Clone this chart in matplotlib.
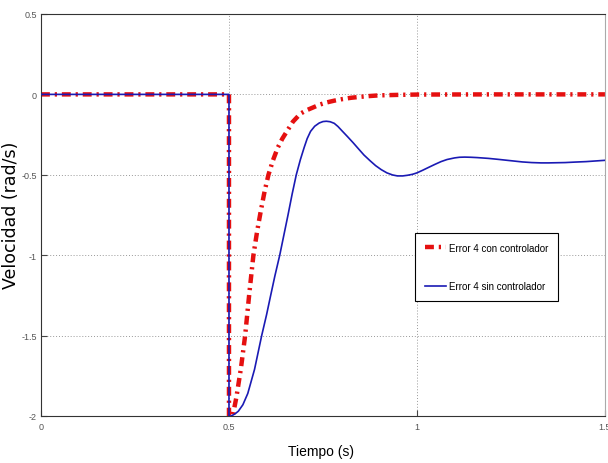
import matplotlib as mpl
import matplotlib.pyplot as plt

mpl.rcParams['font.family'] = ['Liberation Sans', 'DejaVu Sans']

# Error 4 con controlador (red, dash-dot)
t_con = [0.0, 0.5, 0.5, 0.51, 0.52, 0.532, 0.543, 0.554, 0.565, 0.575, 0.585,
         0.595, 0.605, 0.617, 0.63, 0.642, 0.654, 0.67, 0.69, 0.705, 0.725,
         0.742, 0.76, 0.78, 0.80, 0.825, 0.85, 0.875, 0.90, 0.95, 1.0, 1.2, 1.5]
v_con = [0.0, 0.0, -2.0, -2.0, -1.88, -1.70, -1.5, -1.24, -1.0, -0.85, -0.72,
         -0.60, -0.5, -0.41, -0.33, -0.275, -0.23, -0.17, -0.12, -0.10, -0.08,
         -0.063, -0.05, -0.039, -0.03, -0.021, -0.015, -0.01, -0.006, -0.003,
         -0.001, 0.0, 0.0]

# Error 4 sin controlador (blue, solid)
t_sin = [0.0, 0.5, 0.5, 0.505, 0.51, 0.517, 0.525, 0.537, 0.55, 0.568, 0.587,
         0.60, 0.61, 0.622, 0.635, 0.646, 0.657, 0.668, 0.679, 0.69, 0.70,
         0.708, 0.717, 0.728, 0.74, 0.75, 0.759, 0.769, 0.78, 0.79, 0.80,
         0.815, 0.83, 0.845, 0.859, 0.875, 0.89, 0.905, 0.92, 0.935, 0.948,
         0.962, 0.975, 0.988, 1.0, 1.015, 1.03, 1.047, 1.064, 1.08, 1.10,
         1.113, 1.127, 1.143, 1.16, 1.19, 1.216, 1.24, 1.26, 1.28, 1.305,
         1.33, 1.35, 1.372, 1.394, 1.42, 1.45, 1.475, 1.5]
v_sin = [0.0, 0.0, -2.0, -2.0, -1.995, -1.985, -1.97, -1.93, -1.86, -1.71,
         -1.5, -1.37, -1.26, -1.13, -1.0, -0.875, -0.75, -0.62, -0.5, -0.405,
         -0.33, -0.275, -0.23, -0.198, -0.178, -0.169, -0.167, -0.170, -0.18,
         -0.20, -0.225, -0.262, -0.30, -0.34, -0.377, -0.412, -0.443, -0.468,
         -0.488, -0.501, -0.507, -0.507, -0.503, -0.497, -0.488, -0.472,
         -0.455, -0.436, -0.418, -0.405, -0.395, -0.391, -0.39, -0.391,
         -0.393, -0.398, -0.404, -0.41, -0.415, -0.42, -0.424, -0.426,
         -0.426, -0.425, -0.424, -0.421, -0.418, -0.414, -0.41]

xticks = [0, 0.5, 1, 1.5]
xtick_labels = ['0', '0.5', '1', '1.5']
yticks = [-2, -1.5, -1, -0.5, 0, 0.5]
ytick_labels = ['-2', '-1.5', '-1', '-0.5', '0', '0.5']

fig = plt.figure(figsize=(6.08, 4.64), dpi=100)
ax = fig.add_axes([0.0674, 0.1013, 0.9276, 0.8664])

ax.plot(t_con, v_con, color='#e51010', lw=3.2,
        linestyle=(0, (2.0, 1.1, 0.5, 1.1)), label='Error 4 con controlador',
        zorder=2)
ax.plot(t_sin, v_sin, color='#1a1ab4', lw=1.2, label='Error 4 sin controlador',
        zorder=3)

ax.set_xlim(0, 1.5)
ax.set_ylim(-2, 0.5)
ax.set_xticks(xticks)
ax.set_xticklabels(xtick_labels)
ax.set_yticks(yticks)
ax.set_yticklabels(ytick_labels)
ax.tick_params(direction='in', length=4, labelsize=6.5, labelcolor='#555555',
               color='#444444')
ax.tick_params(axis='y', pad=3)
ax.tick_params(axis='x', pad=4)
ax.grid(True, linestyle=(0, (1, 2)), color='#999999', lw=0.7)

for side in ['left', 'bottom', 'top']:
    ax.spines[side].set_color('#333333')
ax.spines['right'].set_color('#aaaaaa')

ax.set_xlabel('Tiempo (s)', fontsize=10, va='top')
ax.xaxis.set_label_coords(0.496, -0.069)
ax.set_ylabel('Velocidad (rad/s)', fontsize=12.5, family='DejaVu Sans')
ax.yaxis.set_label_coords(-0.037, 0.502)

leg = ax.legend(loc='upper left', bbox_to_anchor=(0.663, 0.455), fontsize=7,
                fancybox=False, edgecolor='black', framealpha=1,
                handlelength=2.2, handletextpad=0.3, borderpad=1.0,
                borderaxespad=0, labelspacing=2.9)
leg.get_frame().set_linewidth(0.8)

plt.savefig('out.png')
